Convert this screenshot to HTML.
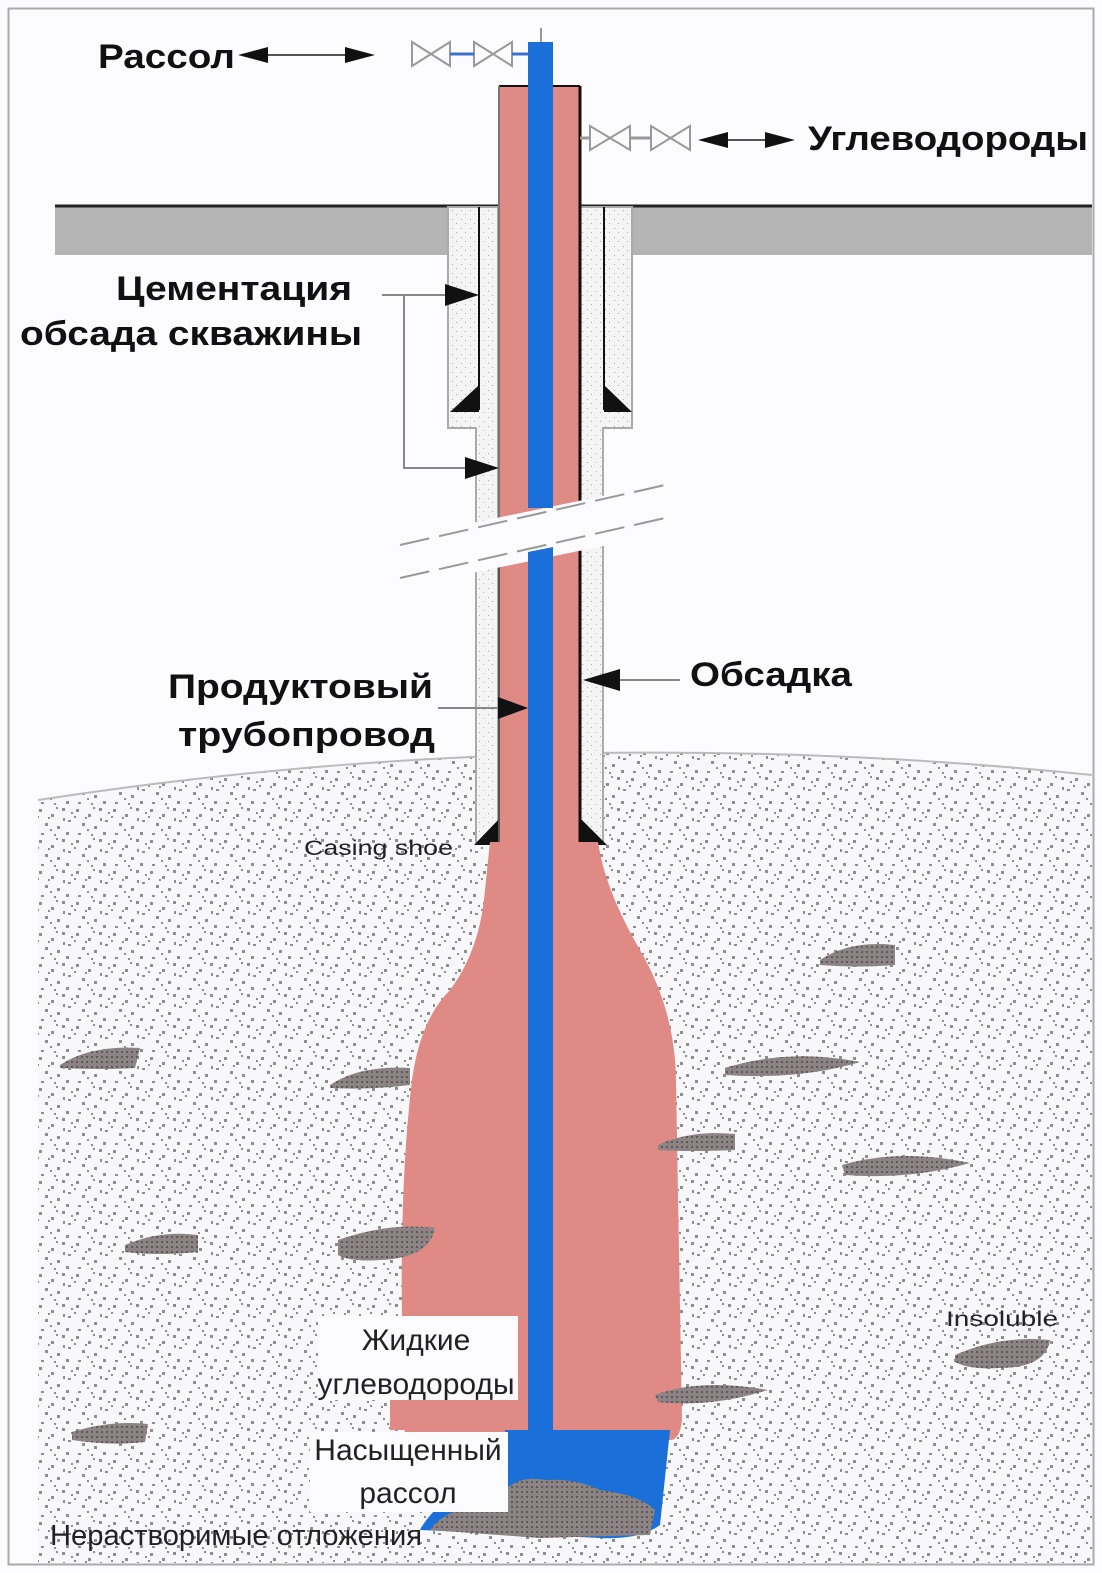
<!DOCTYPE html>
<html><head><meta charset="utf-8"><style>
html,body{margin:0;padding:0;background:#fff}
svg{display:block}
text{font-family:"Liberation Sans",sans-serif}
</style></head><body>
<svg width="1102" height="1573" viewBox="0 0 1102 1573" xmlns="http://www.w3.org/2000/svg">
<defs>
<pattern id="sp" width="37" height="31" patternUnits="userSpaceOnUse">
<rect width="37" height="31" fill="#f8f8fa"/>
<g fill="#8e8e8e">
<rect x="2" y="3" width="3" height="3"/><rect x="14" y="8" width="3" height="3"/><rect x="25" y="2" width="3" height="3"/>
<rect x="31" y="14" width="3" height="2"/><rect x="8" y="17" width="3" height="3"/><rect x="20" y="20" width="3" height="3"/>
<rect x="29" y="26" width="3" height="3"/><rect x="4" y="27" width="3" height="2"/><rect x="17" y="28" width="2" height="2"/>
<rect x="11" y="11" width="2" height="2"/><rect x="26" y="12" width="2" height="3"/><rect x="34" y="6" width="2" height="2"/>
<rect x="19" y="1" width="2" height="2"/><rect x="0" y="10" width="2" height="2"/><rect x="13" y="23" width="2" height="2"/>
</g></pattern>
<pattern id="cm" width="9" height="9" patternUnits="userSpaceOnUse">
<rect width="9" height="9" fill="#f4f4f4"/><rect x="2" y="3" width="1" height="1" fill="#aaa"/><rect x="6" y="7" width="1" height="1" fill="#aaa"/></pattern>
<pattern id="rk" width="5" height="5" patternUnits="userSpaceOnUse">
<rect width="5" height="5" fill="#8c8484"/><rect x="1" y="1" width="2" height="2" fill="#5e5858"/></pattern>
</defs>
<rect width="1102" height="1573" fill="#fcfcfe"/>
<rect x="8.5" y="8.5" width="1085" height="1556" fill="none" stroke="#aaa" stroke-width="2"/>

<path d="M38,800 Q560,720 1092,775 L1092,1563 L38,1563 Z" fill="url(#sp)"/>
<path d="M38,800 Q560,720 1092,775" fill="none" stroke="#bbb" stroke-width="2"/>

<rect x="55" y="205" width="1037" height="50" fill="#b4b4b4"/>
<line x1="55" y1="206" x2="1092" y2="206" stroke="#222" stroke-width="3"/>

<path d="M448,207 L498,207 L498,842 L476,842 L476,428 L448,428 Z" fill="url(#cm)" stroke="#aaa" stroke-width="2"/>
<path d="M580,207 L632,207 L632,428 L603,428 L603,842 L580,842 Z" fill="url(#cm)" stroke="#aaa" stroke-width="2"/>
<line x1="479" y1="207" x2="479" y2="410" stroke="#111" stroke-width="2"/>
<line x1="604" y1="207" x2="604" y2="410" stroke="#111" stroke-width="2"/>
<polygon points="450,412 479,385 479,412" fill="#111"/>
<polygon points="604,385 604,412 632,412" fill="#111"/>
<polygon points="474,845 500,818 500,845" fill="#111"/>
<polygon points="580,818 580,845 607,845" fill="#111"/>

<path d="M490,842 L598,842 Q605,890 640,950 Q675,1010 676,1080 L682,1420 Q680,1440 670,1440 L405,1440 L402,1320 Q400,1180 412,1080 Q420,1020 450,990 Q480,950 485,890 Z" fill="#e08a86"/>
<path d="M505,1430 L670,1430 L660,1525 Q640,1540 600,1538 L420,1530 Q430,1510 470,1480 L505,1480 Z" fill="#1a6fd8"/>
<path d="M505,1490 Q520,1475 545,1480 Q575,1478 600,1490 Q640,1495 655,1510 L650,1535 L540,1538 L430,1530 Q440,1515 470,1505 Z" fill="url(#rk)"/>
<rect x="390" y="1400" width="140" height="30" fill="#e08a86"/>

<rect x="499" y="86" width="81" height="432" fill="#e08a86"/>
<polygon points="499,560 580,542 580,842 499,842" fill="#e08a86"/>
<path d="M499,86 L580,86" stroke="#111" stroke-width="2"/>
<line x1="580" y1="86" x2="580" y2="505" stroke="#111" stroke-width="3"/>
<line x1="580" y1="542" x2="580" y2="842" stroke="#111" stroke-width="3"/>
<line x1="499" y1="86" x2="499" y2="522" stroke="#777" stroke-width="2"/>
<line x1="499" y1="560" x2="499" y2="842" stroke="#555" stroke-width="2"/>
<polygon points="390,540 680,480 680,530 390,590" fill="#fcfcfe"/>
<line x1="400" y1="545" x2="665" y2="485" stroke="#999" stroke-width="2" stroke-dasharray="30,10"/>
<line x1="400" y1="578" x2="665" y2="518" stroke="#999" stroke-width="2" stroke-dasharray="30,10"/>
<rect x="528" y="42" width="25" height="466" fill="#1a6fd8"/>
<polygon points="528,552 553,547 553,1455 528,1455" fill="#1a6fd8"/>
<line x1="541" y1="28" x2="541" y2="42" stroke="#999" stroke-width="2"/>

<g fill="none" stroke="#999" stroke-width="2">
<polygon points="412,42 412,66 450,42 450,66"/><polygon points="474,42 474,66 512,42 512,66"/>
<polygon points="590,126 590,150 630,126 630,150"/><polygon points="651,126 651,150 690,126 690,150"/>
</g>
<line x1="450" y1="54" x2="474" y2="54" stroke="#3a6fd0" stroke-width="3"/>
<line x1="512" y1="54" x2="528" y2="54" stroke="#3a6fd0" stroke-width="3"/>
<line x1="580" y1="138" x2="590" y2="138" stroke="#999" stroke-width="3"/>
<line x1="630" y1="138" x2="651" y2="138" stroke="#999" stroke-width="3"/>

<line x1="250" y1="55" x2="360" y2="55" stroke="#555" stroke-width="2"/>
<polygon points="238,55 268,47 268,63" fill="#111"/><polygon points="375,55 345,47 345,63" fill="#111"/>
<line x1="712" y1="140" x2="780" y2="140" stroke="#555" stroke-width="2"/>
<polygon points="698,140 728,132 728,148" fill="#111"/><polygon points="795,140 765,132 765,148" fill="#111"/>

<g stroke="#888" stroke-width="2" fill="none">
<polyline points="382,295 404,295 404,468 470,468"/><line x1="404" y1="295" x2="450" y2="295"/>
<line x1="438" y1="708" x2="500" y2="708"/><line x1="615" y1="680" x2="680" y2="680"/>
</g>
<polygon points="479,295 445,284 445,306" fill="#111"/>
<polygon points="499,468 465,457 465,479" fill="#111"/>
<polygon points="528,708 498,697 498,719" fill="#111"/>
<polygon points="583,680 620,669 620,691" fill="#111"/>

<g fill="url(#rk)">
<path d="M60,1065 Q90,1045 140,1048 L135,1068 Q100,1070 60,1068Z"/>
<path d="M330,1085 Q360,1065 410,1068 L410,1085 Q370,1090 330,1088Z"/>
<path d="M820,960 Q850,940 895,945 L895,965 Q860,968 820,965Z"/>
<path d="M725,1068 Q790,1048 860,1062 Q800,1080 725,1075Z"/>
<path d="M658,1145 Q690,1130 735,1134 L735,1150 Q690,1152 658,1150Z"/>
<path d="M842,1165 Q900,1148 970,1163 Q910,1180 845,1175Z"/>
<path d="M125,1245 Q160,1230 198,1235 L198,1252 Q160,1256 125,1252Z"/>
<path d="M338,1240 Q390,1222 435,1228 Q430,1258 380,1260 Q350,1262 338,1255Z"/>
<path d="M955,1355 Q1000,1335 1050,1340 Q1045,1368 1000,1368 Q970,1370 955,1362Z"/>
<path d="M655,1395 Q700,1378 768,1390 Q710,1408 658,1402Z"/>
<path d="M72,1432 Q110,1420 148,1424 L145,1442 Q110,1446 72,1440Z"/>
</g>

<g font-weight="bold" font-size="34" fill="#111" lengthAdjust="spacingAndGlyphs">
<text x="98" y="68" textLength="137" lengthAdjust="spacingAndGlyphs">Рассол</text>
<text x="808" y="150" textLength="280" lengthAdjust="spacingAndGlyphs">Углеводороды</text>
<text x="116" y="300" textLength="236" lengthAdjust="spacingAndGlyphs">Цементация</text>
<text x="20" y="345" textLength="342" lengthAdjust="spacingAndGlyphs">обсада скважины</text>
<text x="168" y="698" textLength="265" lengthAdjust="spacingAndGlyphs">Продуктовый</text>
<text x="178" y="746" textLength="257" lengthAdjust="spacingAndGlyphs">трубопровод</text>
<text x="690" y="686" textLength="162" lengthAdjust="spacingAndGlyphs">Обсадка</text>
</g>
<text x="304" y="855" font-size="21" fill="#222" textLength="149" lengthAdjust="spacingAndGlyphs">Casing shoe</text>
<text x="946" y="1326" font-size="21" fill="#222" textLength="112" lengthAdjust="spacingAndGlyphs">Insoluble</text>
<rect x="318" y="1316" width="200" height="84" fill="#fcfcfe"/>
<rect x="310" y="1432" width="198" height="80" fill="#fcfcfe"/>
<g font-size="30" fill="#222" text-anchor="middle">
<text x="416" y="1350">Жидкие</text>
<text x="416" y="1394">углеводороды</text>
<text x="408" y="1460">Насыщенный</text>
<text x="408" y="1503">рассол</text>
</g>
<text x="50" y="1545" font-size="29" fill="#222" textLength="372" lengthAdjust="spacingAndGlyphs">Нерастворимые отложения</text>
</svg>
</body></html>
